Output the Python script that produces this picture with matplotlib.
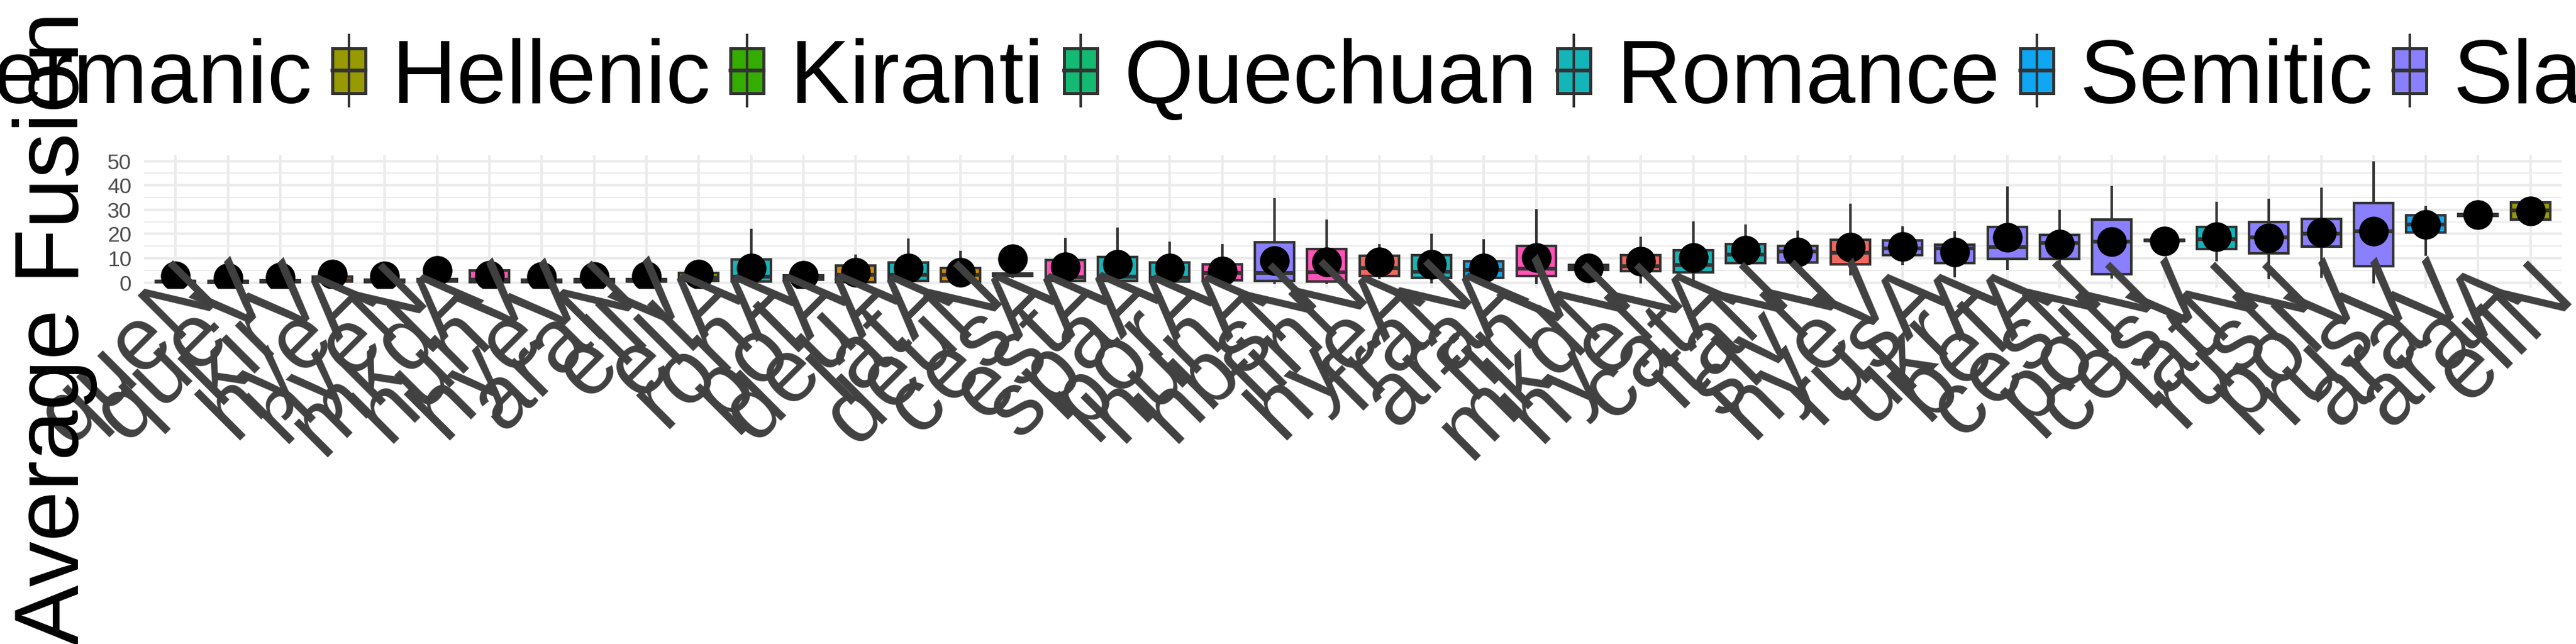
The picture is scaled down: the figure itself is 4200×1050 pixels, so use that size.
import matplotlib
matplotlib.use('Agg')
import matplotlib.pyplot as plt
from matplotlib.patches import Rectangle
from matplotlib.lines import Line2D

plt.rcParams['font.family'] = ['Liberation Sans', 'DejaVu Sans']

# ---------------- data ----------------
labels = ['queN', 'queV', 'kirV', 'hyeA', 'hyeN', 'mkdA', 'hunV', 'hyeV', 'araN', 'ellV',
          'ellA', 'ronA', 'polA', 'deuA', 'latA', 'deuN', 'cesA', 'estA', 'spaA', 'porA',
          'hunA', 'hbsN', 'finN', 'hyeA', 'fraN', 'araA', 'finV', 'mkdN', 'hyeN', 'catA',
          'itaN', 'slvN', 'hyeV', 'rusA', 'ukrA', 'belA', 'cesN', 'polN', 'cesV', 'latN',
          'rusN', 'polV', 'rusV', 'araV', 'araA', 'ellN']
families = ['Quechuan', 'Quechuan', 'Kiranti', 'Armenian', 'Armenian', 'Slavic', 'Uralic', 'Armenian',
            'Semitic', 'Hellenic', 'Hellenic', 'Romance', 'Slavic', 'Germanic', 'Romance', 'Germanic',
            'Slavic', 'Uralic', 'Romance', 'Romance', 'Uralic', 'Slavic', 'Uralic', 'Armenian', 'Romance',
            'Semitic', 'Uralic', 'Slavic', 'Armenian', 'Romance', 'Romance', 'Slavic', 'Armenian', 'Slavic',
            'Slavic', 'Slavic', 'Slavic', 'Slavic', 'Slavic', 'Romance', 'Slavic', 'Slavic', 'Slavic',
            'Semitic', 'Semitic', 'Hellenic']
q1 = [0.1, 0.0, 0.1, 0.4, 0.2, 0.3, 0.2, 0.2, 0.2, 0.3,
      0.6, 0.3, 1.2, 0.2, 0.6, 0.3, 2.6, 0.6, 0.6, 0.3,
      0.9, 0.8, 0.5, 2.7, 1.9, 2.0, 2.7, 5.3, 4.6, 4.1,
      8.0, 8.2, 7.6, 11.3, 7.9, 9.8, 9.7, 3.5, 17.0, 13.9,
      12.0, 14.7, 6.7, 20.6, 27.5, 26.0]
med = [0.4, 0.3, 0.5, 1.0, 0.6, 0.9, 1.3, 0.7, 0.7, 0.8,
       2.0, 2.4, 2.0, 3.1, 3.2, 3.2, 3.1, 2.2, 2.5, 1.9,
       3.9, 4.0, 4.2, 6.0, 4.5, 5.3, 5.6, 6.1, 6.8, 7.3,
       11.5, 12.8, 12.4, 14.0, 14.1, 14.6, 16.4, 16.8, 17.3, 17.9,
       18.7, 20.0, 21.2, 23.9, 27.8, 29.6]
q3 = [0.8, 0.6, 0.9, 2.4, 1.1, 1.4, 5.0, 1.3, 1.4, 1.5,
      4.0, 9.6, 3.0, 6.9, 8.2, 5.9, 3.6, 9.2, 10.5, 8.2,
      7.4, 16.6, 13.7, 11.0, 11.3, 8.7, 15.0, 7.2, 11.2, 13.4,
      15.8, 15.0, 17.6, 17.4, 15.6, 23.0, 19.6, 26.0, 17.6, 22.9,
      25.0, 26.2, 32.8, 27.7, 28.1, 33.0]
whislo = [0.0, 0.0, 0.0, 0.0, 0.0, 0.1, 0.0, 0.0, 0.0, 0.0,
          0.2, 0.0, 0.3, 0.0, 0.2, 0.0, 2.4, 0.1, 0.0, 0.0,
          0.2, 0.0, 0.0, 2.0, 0.2, 0.2, 0.0, 5.0, 0.2, 0.5,
          5.2, 5.4, 3.5, 7.7, 2.7, 5.6, 5.6, 2.3, 17.0, 9.3,
          1.9, 2.5, 0.2, 11.5, 27.5, 26.0]
whishi = [1.0, 0.8, 1.2, 3.0, 1.4, 1.6, 5.2, 1.6, 1.6, 1.8,
          4.6, 21.6, 3.4, 11.1, 17.7, 12.5, 3.8, 17.8, 22.0, 16.3,
          15.3, 34.3, 25.4, 15.2, 19.5, 17.4, 29.6, 7.5, 18.3, 24.7,
          23.3, 20.8, 32.0, 22.7, 20.6, 39.1, 29.4, 39.3, 17.6, 32.6,
          34.0, 38.5, 49.4, 30.9, 28.1, 33.0]
means = [2.7, 1.9, 2.3, 3.5, 2.7, 5.0, 2.9, 2.5, 2.5, 2.8,
         3.5, 6.1, 3.0, 4.2, 6.1, 4.1, 9.8, 6.6, 7.4, 6.1,
         4.6, 8.9, 8.4, 8.5, 7.5, 6.0, 10.3, 6.1, 8.8, 10.2,
         13.2, 12.5, 14.6, 14.8, 12.5, 18.7, 15.7, 16.7, 17.2, 18.9,
         18.4, 20.5, 21.2, 23.8, 27.9, 29.5]

legend_families = ['Armenian', 'Germanic', 'Hellenic', 'Kiranti', 'Quechuan',
                   'Romance', 'Semitic', 'Slavic', 'Turkic', 'Uralic']
family_colors = ['#F0685E', '#D08A00', '#979A00', '#34AC00', '#14B972',
                 '#14B5B9', '#0FA6F2', '#8A80FF', '#E060EE', '#FF52B8']
y_ticks = [0, 10, 20, 30, 40, 50]
y_minor = [5, 15, 25, 35, 45]
y_title = 'Average Fusion'

# ---------------- figure ----------------
W, H, DPI = 4200, 1050, 300
fig = plt.figure(figsize=(W / DPI, H / DPI), dpi=DPI)
fig.patch.set_facecolor('white')
ax = fig.add_axes([235 / W, 1 - 470 / H, (4177 - 235) / W, (470 - 253) / H])
ax.set_facecolor('white')

cmap = dict(zip(legend_families, family_colors))
n = len(labels)
pos = list(range(1, n + 1))
GRID = '#EBEBEB'
EDGE = '#333333'

for y in y_ticks:
    ax.axhline(y, color=GRID, lw=1.0, zorder=0)
for y in y_minor:
    ax.axhline(y, color=GRID, lw=0.5, zorder=0)
for p in pos:
    ax.axvline(p, color=GRID, lw=1.0, zorder=0)

stats = [dict(q1=a, med=m, q3=b, whislo=lo, whishi=hi, fliers=[], label=lab)
         for a, m, b, lo, hi, lab in zip(q1, med, q3, whislo, whishi, labels)]
bp = ax.bxp(stats, positions=pos, widths=0.75, patch_artist=True, showfliers=False,
            showcaps=False, manage_ticks=False,
            boxprops=dict(edgecolor=EDGE, linewidth=1.0),
            whiskerprops=dict(color=EDGE, linewidth=1.0),
            medianprops=dict(color=EDGE, linewidth=1.5))
for patch, fam in zip(bp['boxes'], families):
    patch.set_facecolor(cmap[fam])
    patch.set_zorder(1.2)
for ln in bp['whiskers']:
    ln.set_zorder(1.1)
for ln in bp['medians']:
    ln.set_zorder(1.3)
ax.scatter(pos, means, s=135, color='black', linewidths=0, zorder=2)

ax.set_xlim(0.4, n + 0.6)
ax.set_ylim(-2.35, 52.4)
ax.set_yticks(y_ticks)
ax.set_yticklabels([str(v) for v in y_ticks], fontsize=8.5, color='#4D4D4D')
ax.set_xticks(pos)
ax.set_xticklabels(labels, rotation=45, ha='right', va='top', rotation_mode='anchor',
                   fontsize=35, color='#404040')
ax.tick_params(axis='both', length=0)
ax.tick_params(axis='y', pad=5)
ax.tick_params(axis='x', pad=-15)
ax.grid(False)
ax.set_axisbelow(False)
for s in ax.spines.values():
    s.set_visible(False)

# axis title
fig.text(90 / W, 1 - 535 / H, y_title, rotation=90, fontsize=35.5, ha='center', va='center',
         color='black')

# ---------------- legend (top, horizontal) ----------------
renderer = fig.canvas.get_renderer()
key_w, key_h, whisk_h = 54, 73, 116
cy = 115
baseline = 168
pad_txt, gap = 43, 33
texts, widths = [], []
for fam in legend_families:
    t = fig.text(0, 1 - baseline / H, fam, fontsize=35, ha='left', va='baseline', color='black')
    texts.append(t)
    widths.append(t.get_window_extent(renderer).width)
lefts = []
x = 0.0
for w in widths:
    lefts.append(x)
    x += key_w + pad_txt + w + gap
shift = 542 - lefts[legend_families.index('Hellenic')]
for fam, col, t, L in zip(legend_families, family_colors, texts, lefts):
    kl = L + shift
    kc = kl + key_w / 2
    fig.add_artist(Line2D([kc / W, kc / W], [1 - (cy - whisk_h / 2) / H, 1 - (cy + whisk_h / 2) / H],
                          transform=fig.transFigure, color=EDGE, lw=1.0))
    fig.add_artist(Rectangle((kl / W, 1 - (cy + key_h / 2) / H), key_w / W, key_h / H,
                             transform=fig.transFigure, facecolor=col, edgecolor=EDGE, lw=1.2))
    fig.add_artist(Line2D([kl / W, (kl + key_w) / W], [1 - cy / H, 1 - cy / H],
                          transform=fig.transFigure, color=EDGE, lw=1.5))
    t.set_x((kl + key_w + pad_txt) / W)

fig.savefig('out.png', dpi=DPI, facecolor='white')
